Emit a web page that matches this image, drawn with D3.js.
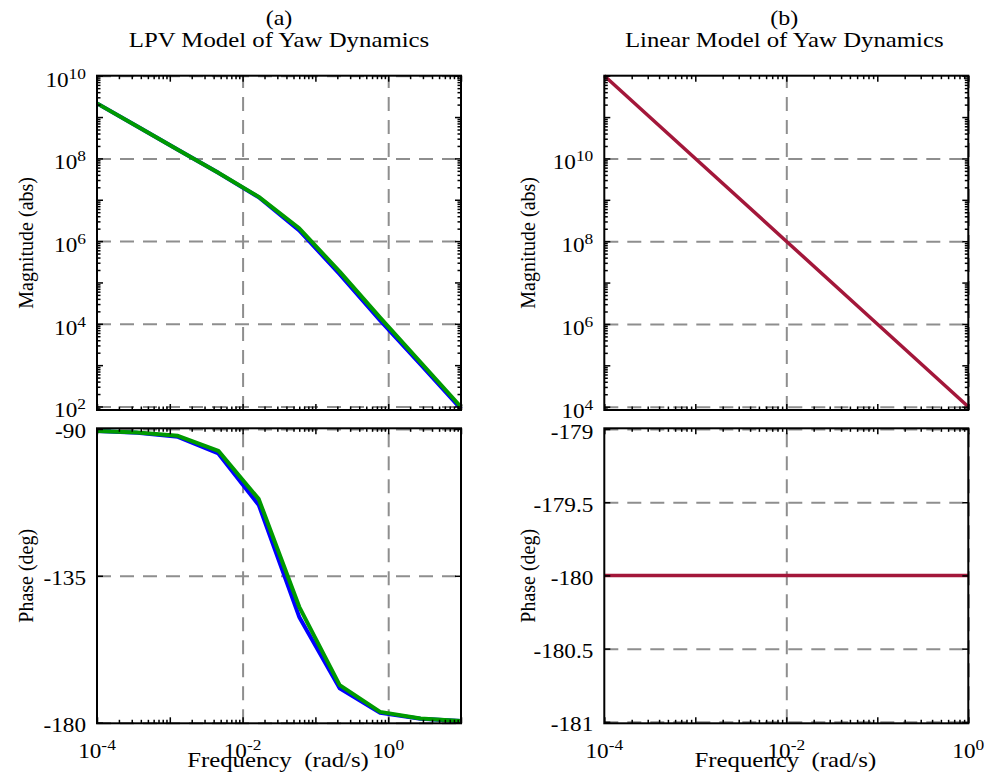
<!DOCTYPE html>
<html><head><meta charset="utf-8">
<script src="https://cdn.jsdelivr.net/npm/d3@7"></script>
<style>
body{margin:0;background:#fff}
svg{display:block}
text{font-family:"Liberation Serif","Times New Roman",serif;fill:#000}
</style>
</head><body>
<svg id="c" width="989" height="777"></svg>
<script>
// ---------- data ----------
const freqA = [1e-4, 3.594e-4, 1.292e-3, 4.642e-3, 1.668e-2, 5.995e-2, 0.2154, 0.7743, 2.783, 10];
const magBlueA = [2.14e9, 5.89e8, 1.62e8, 4.47e7, 1.15e7, 1.82e6, 1.58e5, 1.20e4, 1047, 88];
const magGreenA = [2.14e9, 5.89e8, 1.62e8, 4.47e7, 1.175e7, 2.04e6, 1.82e5, 1.41e4, 1175, 97];
const phaseBlueA = [-90.6, -91.2, -92.4, -97.5, -113.3, -147.6, -169.5, -177.0, -178.8, -179.5];
const phaseGreenA = [-90.6, -91.1, -92.1, -96.7, -111.5, -144.5, -168.5, -176.7, -178.7, -179.5];

const freqB = [1e-4, 1e-3, 1e-2, 1e-1, 1];
const magB = [1e12, 1e10, 1e8, 1e6, 1e4];
const phaseB = [-180, -180, -180, -180, -180];

const xTicksA = [1e-4, 1e-2, 1e0];
const xTicksB = [1e-4, 1e-2, 1e0];
const magTicksA = [1e2, 1e4, 1e6, 1e8, 1e10];
const magTicksB = [1e4, 1e6, 1e8, 1e10];
const phaseTicksA = [-90, -135, -180];
const phaseTicksB = [-179, -179.5, -180, -180.5, -181];

const titles = ["(a)", "(b)"];
const subtitles = ["LPV Model of Yaw Dynamics", "Linear Model of Yaw Dynamics"];
const xLabel = "Frequency  (rad/s)";
const magLabel = "Magnitude (abs)";
const phaseLabel = "Phase (deg)";

// ---------- helpers ----------
const svg = d3.select('#c');
const BLUE = "#0000ff", GREEN = "#009a00", RED = "#a3173a";

function htext(x, y, anchor, size, sx, parts) {
  const t = svg.append('text')
    .attr('transform', `translate(${x},${y}) scale(${sx},1)`)
    .attr('text-anchor', anchor)
    .style('font-size', size + 'px')
    .style('white-space', 'pre');
  parts.forEach(p => {
    const s = t.append('tspan').text(p.t);
    if (p.sup) s.attr('dy', -8).style('font-size', '15px');
  });
  return t;
}
function vtext(x, y, s) {
  svg.append('text').attr('transform', `translate(${x},${y}) rotate(-90)`)
    .attr('text-anchor', 'middle').style('font-size', '20px').text(s);
}
function expOf(v) { return String(Math.round(Math.log10(v))); }

function logMinors(dom) {
  const out = [], maj = [];
  const lo = Math.floor(Math.log10(dom[0])), hi = Math.ceil(Math.log10(dom[1]));
  for (let d = lo; d <= hi; d++) {
    const b = Math.pow(10, d);
    if (b >= dom[0] * 0.999 && b <= dom[1] * 1.001) maj.push(b);
    for (let m = 2; m <= 9; m++) { const v = m * b; if (v > dom[0] && v < dom[1]) out.push(v); }
  }
  return {minor: out, major: maj};
}

function panel(cfg) {
  const x = d3.scaleLog().domain(cfg.xd).range([cfg.x0, cfg.x1]);
  const y = (cfg.ylog ? d3.scaleLog() : d3.scaleLinear()).domain(cfg.yd).range([cfg.y1, cfg.y0]);
  const W = cfg.x1 - cfg.x0, H = cfg.y1 - cfg.y0;

  // grid
  const styleGrid = g => {
    g.select('.domain').remove();
    g.selectAll('line').attr('stroke', '#8e8e8e').attr('stroke-width', 2).attr('stroke-dasharray', '14,9');
  };
  svg.append('g').attr('transform', `translate(0,${cfg.y1})`)
    .call(d3.axisBottom(x).tickValues(cfg.xTicks.filter(v => v > cfg.xd[0] * 1.01)).tickSize(-H).tickFormat(''))
    .call(styleGrid);
  svg.append('g').attr('transform', `translate(${cfg.x0},0)`)
    .call(d3.axisLeft(y).tickValues(cfg.yTicks).tickSize(-W).tickFormat(''))
    .call(styleGrid);

  // data
  const line = d3.line().x(d => x(d[0])).y(d => y(d[1]));
  cfg.series.forEach(s => {
    svg.append('path').datum(s.f.map((f, i) => [f, s.v[i]]))
      .attr('d', line).attr('fill', 'none').attr('stroke', s.c)
      .attr('stroke-width', s.w).attr('stroke-linejoin', 'round');
  });

  // ticks
  const xm = logMinors(cfg.xd);
  const ym = cfg.ylog ? logMinors(cfg.yd) : {minor: [], major: cfg.yTicks};
  const styleTick = g => { g.select('.domain').remove(); g.selectAll('line').attr('stroke', '#000').attr('stroke-width', 1.5); };
  [[d3.axisBottom, cfg.y1], [d3.axisTop, cfg.y0]].forEach(([ax, yy]) => {
    svg.append('g').attr('transform', `translate(0,${yy})`).call(ax(x).tickValues(xm.major).tickSize(-6).tickFormat('')).call(styleTick);
    svg.append('g').attr('transform', `translate(0,${yy})`).call(ax(x).tickValues(xm.minor).tickSize(-3.5).tickFormat('')).call(styleTick);
  });
  [[d3.axisLeft, cfg.x0], [d3.axisRight, cfg.x1]].forEach(([ax, xx]) => {
    svg.append('g').attr('transform', `translate(${xx},0)`).call(ax(y).tickValues(ym.major).tickSize(-6).tickFormat('')).call(styleTick);
    if (ym.minor.length) svg.append('g').attr('transform', `translate(${xx},0)`).call(ax(y).tickValues(ym.minor).tickSize(-3.5).tickFormat('')).call(styleTick);
  });

  // box
  svg.append('rect').attr('x', cfg.x0).attr('y', cfg.y0).attr('width', W).attr('height', H)
    .attr('fill', 'none').attr('stroke', '#000').attr('stroke-width', 2);

  // y labels
  cfg.yTicks.forEach(v => {
    if (cfg.ylog) htext(cfg.x0 - 11, y(v) + 11, 'end', 20, 1.16, [{t: '10'}, {t: expOf(v), sup: true}]);
    else htext(cfg.x0 - 11, y(v) + 9.5, 'end', 20, 1.16, [{t: String(v)}]);
  });
  // x labels
  if (cfg.xLabels) {
    cfg.xTicks.forEach(v => {
      htext(x(v), cfg.y1 + 35, 'middle', 20, 1.16, [{t: '10'}, {t: expOf(v), sup: true}]);
    });
    htext((cfg.x0 + cfg.x1) / 2 - 1, cfg.y1 + 44, 'middle', 20, 1.24, [{t: xLabel}]);
  }
}

// ---------- layout ----------
const AX0 = 97, AX1 = 461, BX0 = 604.3, BX1 = 968.3;
const MY0 = 75.7, MY1 = 410, PY0 = 428.3, PY1 = 723.3;

panel({x0: AX0, x1: AX1, y0: MY0, y1: MY1, xd: [1e-4, 10], yd: [Math.pow(10, 1.915), 1e10], ylog: true,
  xTicks: xTicksA, yTicks: magTicksA, xLabels: false,
  series: [{f: freqA, v: magBlueA, c: BLUE, w: 4}, {f: freqA, v: magGreenA, c: GREEN, w: 4}]});
panel({x0: AX0, x1: AX1, y0: PY0, y1: PY1, xd: [1e-4, 10], yd: [-180.2, -89.8], ylog: false,
  xTicks: xTicksA, yTicks: phaseTicksA, xLabels: true,
  series: [{f: freqA, v: phaseBlueA, c: BLUE, w: 4}, {f: freqA, v: phaseGreenA, c: GREEN, w: 4}]});
panel({x0: BX0, x1: BX1, y0: MY0, y1: MY1, xd: [1e-4, 1], yd: [Math.pow(10, 3.92), 1e12], ylog: true,
  xTicks: xTicksB, yTicks: magTicksB, xLabels: false,
  series: [{f: freqB, v: magB, c: RED, w: 3.5}]});
panel({x0: BX0, x1: BX1, y0: PY0, y1: PY1, xd: [1e-4, 1], yd: [-181.01, -178.995], ylog: false,
  xTicks: xTicksB, yTicks: phaseTicksB, xLabels: true,
  series: [{f: freqB, v: phaseB, c: RED, w: 3.5}]});

// titles
htext((AX0 + AX1) / 2, 24.5, 'middle', 20, 1.2, [{t: titles[0]}]);
htext((AX0 + AX1) / 2, 47, 'middle', 20, 1.24, [{t: subtitles[0]}]);
htext((BX0 + BX1) / 2 - 2, 24.5, 'middle', 20, 1.2, [{t: titles[1]}]);
htext((BX0 + BX1) / 2 - 2, 47, 'middle', 20, 1.24, [{t: subtitles[1]}]);

// y-axis titles
vtext(33, (MY0 + MY1) / 2, magLabel);
vtext(33, (PY0 + PY1) / 2, phaseLabel);
vtext(535, (MY0 + MY1) / 2, magLabel);
vtext(535, (PY0 + PY1) / 2, phaseLabel);
</script>
</body></html>
